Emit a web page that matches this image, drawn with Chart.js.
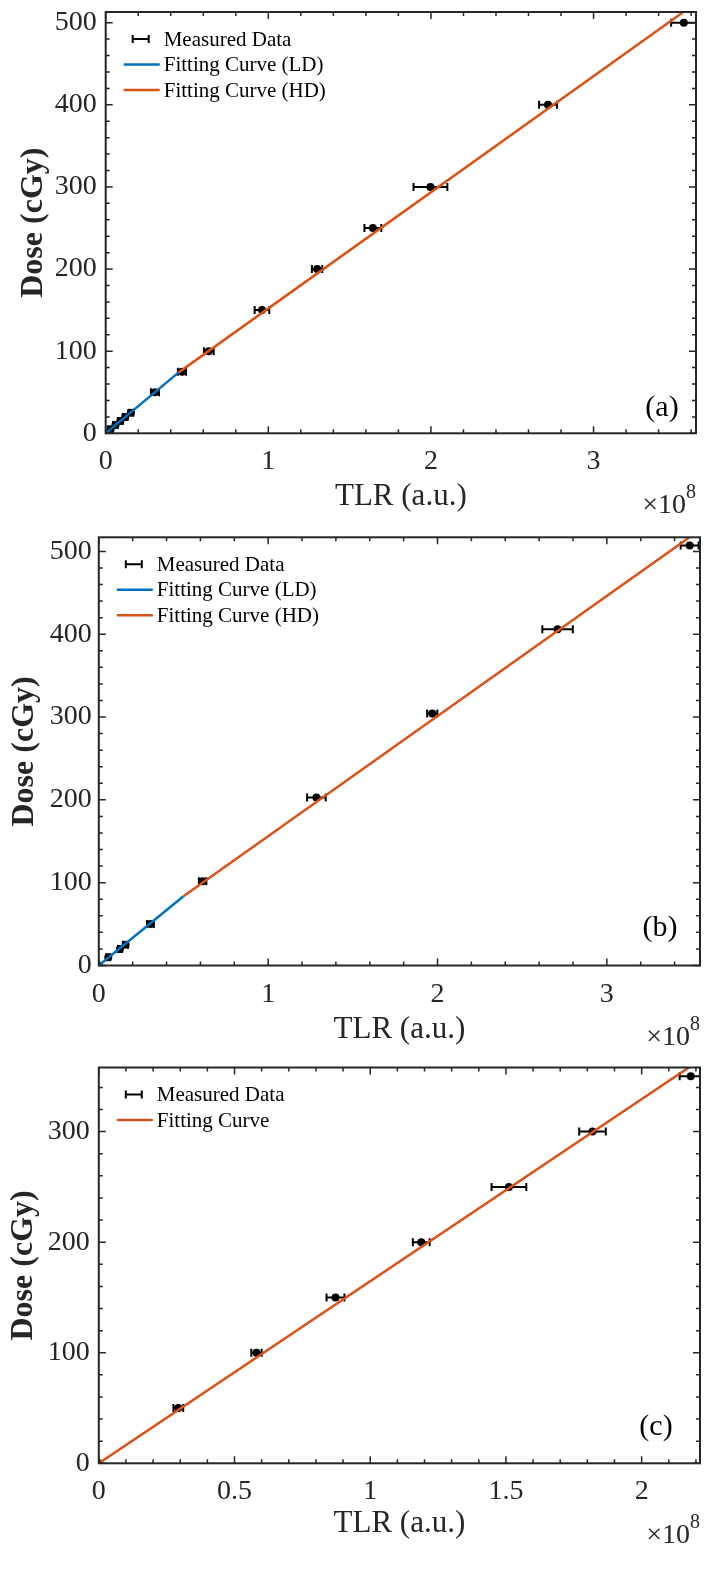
<!DOCTYPE html>
<html>
<head>
<meta charset="utf-8">
<script src="https://cdn.jsdelivr.net/npm/chart.js@4.4.1/dist/chart.umd.min.js"></script>
<style>
  body { margin: 0; background: #fff; }
  .panel { position: absolute; left: 0; }
</style>
</head>
<body>
<div class="panel" style="top:0px"><canvas id="chartA" width="704" height="520"></canvas></div>
<div class="panel" style="top:520px"><canvas id="chartB" width="704" height="535"></canvas></div>
<div class="panel" style="top:1055px"><canvas id="chartC" width="704" height="536"></canvas></div>
<script>
// TLR values are in units of 1e8 (a.u.), dose in cGy

// (a)
const tlrA  = [0, 0.03, 0.06, 0.09, 0.12, 0.155, 0.303, 0.469, 0.634, 0.961, 1.30, 1.643, 1.997, 2.72, 3.555];
const doseA = [0, 5, 10, 15, 20, 25, 50, 75, 100, 150, 200, 250, 300, 400, 500];
const errA  = [0, 0.015, 0.015, 0.015, 0.015, 0.015, 0.025, 0.025, 0.03, 0.045, 0.032, 0.052, 0.104, 0.055, 0.078];
const ldA_x = [0, 0.447];
const ldA_y = [0, 73.9];
const hdA_x = [0.447, 3.63];
const hdA_y = [73.9, 524];

// (b)
const tlrB  = [0, 0.056, 0.125, 0.158, 0.305, 0.613, 1.285, 1.969, 2.709, 3.489];
const doseB = [0, 10, 20, 25, 50, 101.6, 202.8, 304.4, 406, 507];
const errB  = [0, 0.012, 0.012, 0.015, 0.02, 0.022, 0.055, 0.03, 0.09, 0.053];
const ldB_x = [0, 0.5];
const ldB_y = [0, 83.5];
const hdB_x = [0.5, 3.55];
const hdB_y = [83.5, 526];

// (c)
const tlrC  = [0, 0.293, 0.581, 0.872, 1.188, 1.511, 1.819, 2.181];
const doseC = [0, 50, 100, 150, 200, 250, 300, 350];
const errC  = [0, 0.018, 0.019, 0.033, 0.031, 0.064, 0.049, 0.041];
const fitC_x = [0, 2.22];
const fitC_y = [0, 365.6];

const legendA = ["Measured Data", "Fitting Curve (LD)", "Fitting Curve (HD)"];
const legendC = ["Measured Data", "Fitting Curve"];

const ink = "#262626";
const blue = "#0072BD";
const orange = "#D95319";
const serif = '"Liberation Serif", "Times New Roman", serif';

Chart.defaults.font.family = serif;
Chart.defaults.color = ink;

function pts(xs, ys) {
    return xs.map((x, i) => ({ x: x, y: ys[i] }));
}

// horizontal error bars, drawn under everything else
const errorBars = {
    id: "errorBars",
    beforeDatasetsDraw(chart) {
        const { ctx, chartArea: a, scales: { x, y } } = chart;
        ctx.save();
        ctx.beginPath();
        ctx.rect(a.left, a.top, a.width, a.height);
        ctx.clip();
        ctx.strokeStyle = "#000";
        ctx.lineWidth = 2;
        chart.data.datasets.forEach(ds => {
            if (!ds.xErr) return;
            ds.data.forEach((p, i) => {
                const e = ds.xErr[i];
                if (!e) return;
                const x1 = x.getPixelForValue(p.x - e);
                const x2 = x.getPixelForValue(p.x + e);
                const py = y.getPixelForValue(p.y);
                ctx.beginPath();
                ctx.moveTo(x1, py); ctx.lineTo(x2, py);
                ctx.moveTo(x1, py - 4); ctx.lineTo(x1, py + 4);
                ctx.moveTo(x2, py - 4); ctx.lineTo(x2, py + 4);
                ctx.stroke();
            });
        });
        ctx.restore();
    }
};

// box with inward ticks on all four sides, legend, panel tag, x10^8
const decor = {
    id: "decor",
    afterDatasetsDraw(chart, args, opts) {
        const { ctx, chartArea: a, scales: { x, y } } = chart;
        ctx.save();
        ctx.strokeStyle = ink;
        ctx.lineWidth = 1.5;

        const xStep = x.options.ticks.stepSize;
        for (let i = 0; i * opts.xMinor <= x.max + 1e-9; i++) {
            const v = i * opts.xMinor;
            const px = x.getPixelForValue(v);
            const r = v / xStep;
            const len = Math.abs(r - Math.round(r)) < 1e-6 ? 7 : 4;
            ctx.beginPath();
            ctx.moveTo(px, a.bottom); ctx.lineTo(px, a.bottom - len);
            ctx.moveTo(px, a.top); ctx.lineTo(px, a.top + len);
            ctx.stroke();
        }
        const yStep = y.options.ticks.stepSize;
        for (let i = 0; i * opts.yMinor <= y.max + 1e-9; i++) {
            const v = i * opts.yMinor;
            const py = y.getPixelForValue(v);
            const r = v / yStep;
            const len = Math.abs(r - Math.round(r)) < 1e-6 ? 7 : 4;
            ctx.beginPath();
            ctx.moveTo(a.left, py); ctx.lineTo(a.left + len, py);
            ctx.moveTo(a.right, py); ctx.lineTo(a.right - len, py);
            ctx.stroke();
        }
        ctx.lineWidth = 2;
        ctx.strokeRect(a.left, a.top, a.right - a.left, a.bottom - a.top);

        // legend
        ctx.font = "21px " + serif;
        ctx.textBaseline = "middle";
        ctx.textAlign = "left";
        opts.legend.forEach((item, i) => {
            const ly = a.top + 27 + i * 25.5;
            if (item.kind === "err") {
                const cx = a.left + 35;
                ctx.strokeStyle = "#000";
                ctx.lineWidth = 2;
                ctx.beginPath();
                ctx.moveTo(cx - 8, ly); ctx.lineTo(cx + 8, ly);
                ctx.moveTo(cx - 8, ly - 4); ctx.lineTo(cx - 8, ly + 4);
                ctx.moveTo(cx + 8, ly - 4); ctx.lineTo(cx + 8, ly + 4);
                ctx.stroke();
            } else {
                ctx.strokeStyle = item.color;
                ctx.lineWidth = 2.5;
                ctx.beginPath();
                ctx.moveTo(a.left + 18, ly); ctx.lineTo(a.left + 54, ly);
                ctx.stroke();
            }
            ctx.fillStyle = "#000";
            ctx.fillText(item.text, a.left + 58, ly + 1);
        });

        // panel tag
        ctx.font = "30px " + serif;
        ctx.textAlign = "center";
        ctx.fillStyle = "#000";
        ctx.fillText(opts.tag, a.right - opts.tagDx, a.bottom - opts.tagDy);

        // exponent
        ctx.textAlign = "right";
        ctx.fillStyle = ink;
        ctx.font = "20px " + serif;
        const w8 = ctx.measureText("8").width;
        ctx.fillText("8", a.right, a.bottom + 59);
        ctx.font = "28px " + serif;
        ctx.fillText("\u00d710", a.right - w8, a.bottom + 72);
        ctx.restore();
    }
};

function makePanel(id, p) {
    const H = document.getElementById(id).height;
    const xTitleLh = 31 * 1.2;
    const yTitleLh = 32 * 1.2;
    const datasets = p.lines.map(l => ({
        type: "scatter",
        showLine: true,
        data: pts(l.x, l.y),
        borderColor: l.color,
        borderWidth: 2.5,
        pointRadius: 0
    }));
    datasets.push({
        type: "scatter",
        data: pts(p.tlr, p.dose),
        xErr: p.err,
        pointRadius: 4,
        backgroundColor: "#000",
        borderWidth: 0
    });

    new Chart(document.getElementById(id), {
        type: "scatter",
        data: { datasets: datasets },
        options: {
            responsive: false,
            animation: false,
            devicePixelRatio: 1,
            layout: { padding: { top: p.area.top, right: 704 - p.area.right, bottom: 0, left: 0 } },
            plugins: {
                legend: { display: false },
                tooltip: { enabled: false },
                decor: {
                    xMinor: p.xMinor, yMinor: 20,
                    legend: p.legend,
                    tag: p.tag, tagDx: p.tagDx, tagDy: p.tagDy
                }
            },
            scales: {
                x: {
                    type: "linear",
                    min: 0, max: p.xMax,
                    grid: { display: false, drawTicks: false },
                    border: { display: false },
                    ticks: {
                        stepSize: p.xStep,
                        includeBounds: false,
                        padding: 12,
                        font: { size: 28 },
                        color: ink,
                        maxRotation: 0,
                        callback: v => String(+v.toFixed(2))
                    },
                    title: {
                        display: true,
                        text: "TLR (a.u.)",
                        font: { size: 31 },
                        color: ink,
                        padding: { top: 0, bottom: H - p.xTitleY - xTitleLh / 2 }
                    },
                    afterFit: s => { s.height = H - p.area.bottom; s.paddingLeft = 0; s.paddingRight = 0; }
                },
                y: {
                    type: "linear",
                    min: 0, max: p.yMax,
                    grid: { display: false, drawTicks: false },
                    border: { display: false },
                    ticks: {
                        stepSize: 100,
                        includeBounds: false,
                        padding: p.yPad,
                        font: { size: 28 },
                        color: ink
                    },
                    title: {
                        display: true,
                        text: "Dose (cGy)",
                        font: { size: 32, weight: "bold" },
                        color: ink,
                        padding: { top: p.yTitleX - yTitleLh / 2, bottom: 0 }
                    },
                    afterFit: s => { s.width = p.area.left; s.paddingTop = 0; s.paddingBottom = 0; }
                }
            }
        },
        plugins: [errorBars, decor]
    });
}

makePanel("chartA", {
    tlr: tlrA, dose: doseA, err: errA,
    lines: [
        { x: ldA_x, y: ldA_y, color: blue },
        { x: hdA_x, y: hdA_y, color: orange }
    ],
    legend: [
        { kind: "err", text: legendA[0] },
        { kind: "line", text: legendA[1], color: blue },
        { kind: "line", text: legendA[2], color: orange }
    ],
    xMax: 3.63, xStep: 1, xMinor: 0.2, yMax: 513,
    area: { left: 105.7, right: 696, top: 12, bottom: 433.3 },
    xTitleY: 497, yTitleX: 33.7, yPad: 9,
    tag: "(a)", tagDx: 34, tagDy: 25
});

makePanel("chartB", {
    tlr: tlrB, dose: doseB, err: errB,
    lines: [
        { x: ldB_x, y: ldB_y, color: blue },
        { x: hdB_x, y: hdB_y, color: orange }
    ],
    legend: [
        { kind: "err", text: legendA[0] },
        { kind: "line", text: legendA[1], color: blue },
        { kind: "line", text: legendA[2], color: orange }
    ],
    xMax: 3.55, xStep: 1, xMinor: 0.2, yMax: 517,
    area: { left: 98.8, right: 701.8, top: 17.3, bottom: 445.5 },
    xTitleY: 510, yTitleX: 24.7, yPad: 7,
    tag: "(b)", tagDx: 40, tagDy: 37
});

makePanel("chartC", {
    tlr: tlrC, dose: doseC, err: errC,
    lines: [
        { x: fitC_x, y: fitC_y, color: orange }
    ],
    legend: [
        { kind: "err", text: legendC[0] },
        { kind: "line", text: legendC[1], color: orange }
    ],
    xMax: 2.215, xStep: 0.5, xMinor: 0.1, yMax: 358,
    area: { left: 98.8, right: 702.5, top: 12.5, bottom: 408.3 },
    xTitleY: 468.5, yTitleX: 23.6, yPad: 9,
    tag: "(c)", tagDx: 44, tagDy: 36
});
</script>
</body>
</html>
